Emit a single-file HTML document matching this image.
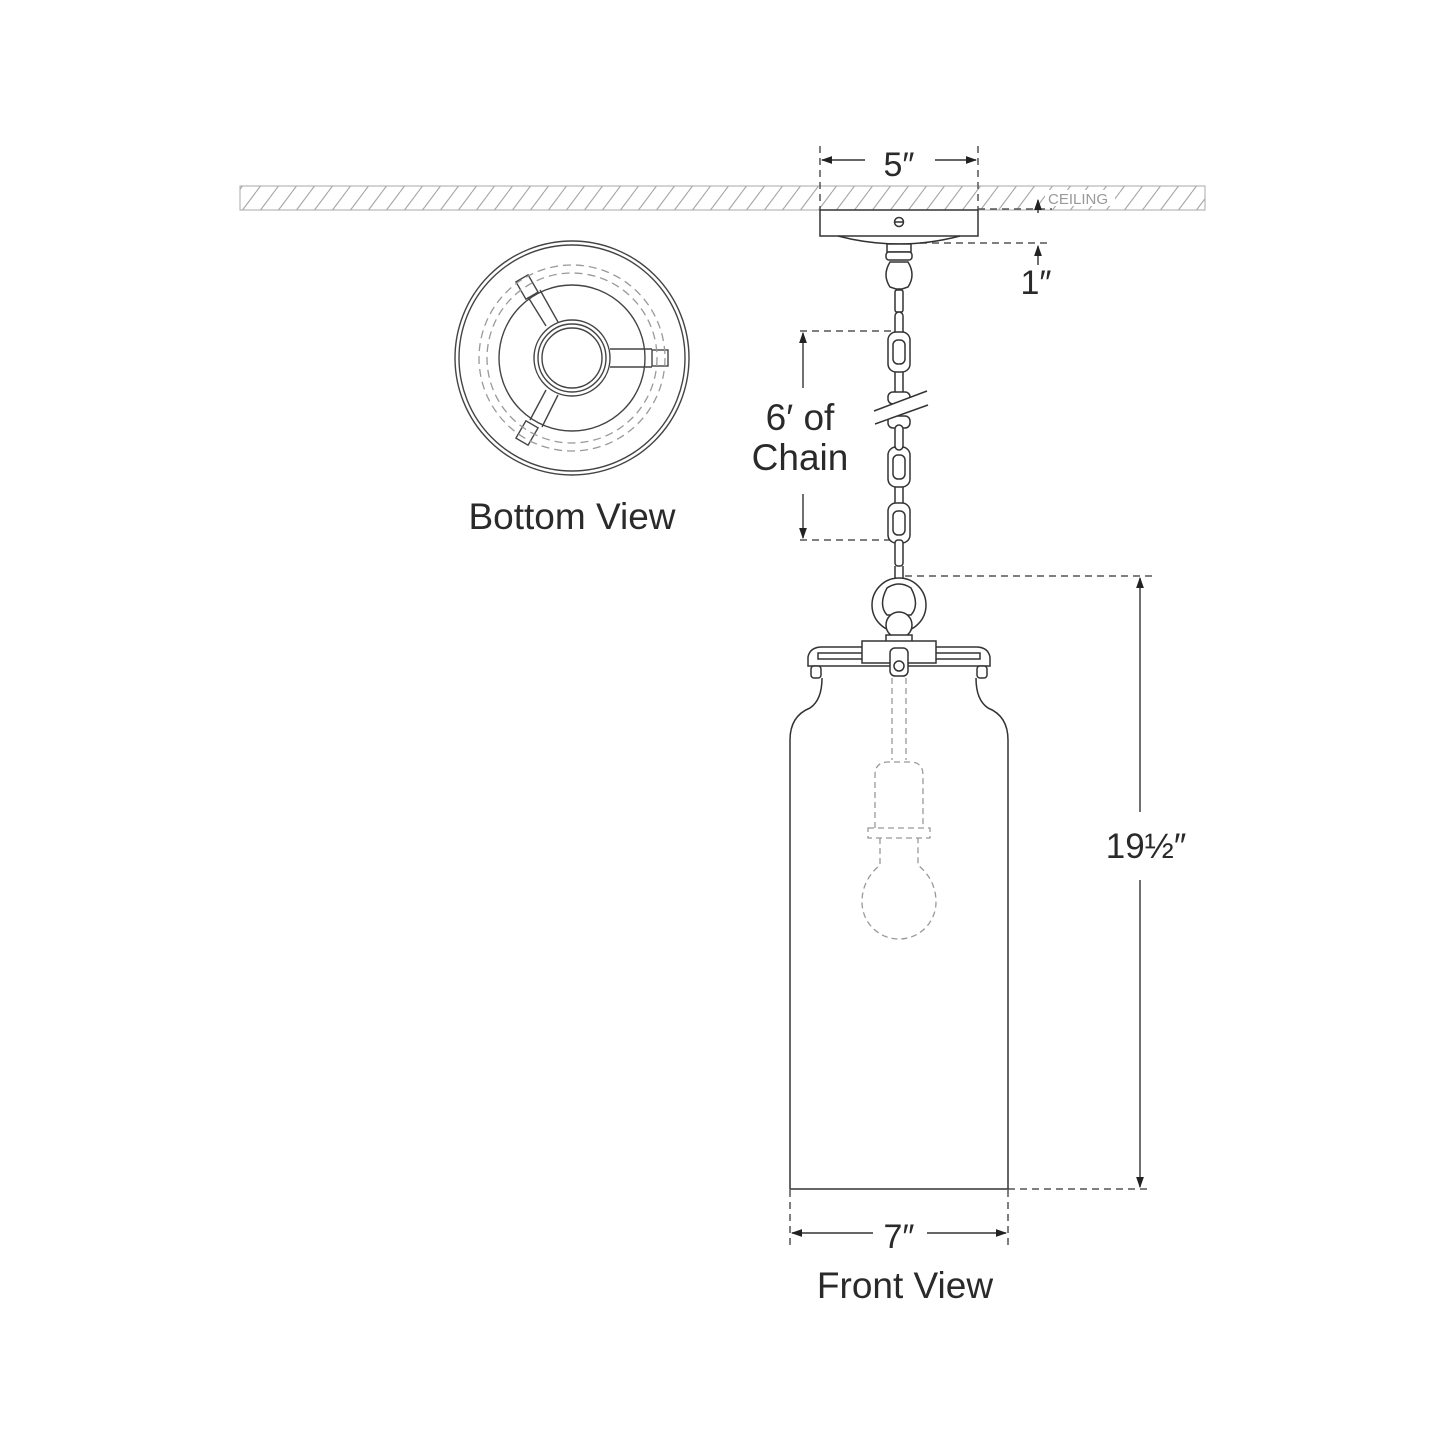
<!DOCTYPE html>
<html><head><meta charset="utf-8"><style>
html,body{margin:0;padding:0;background:#fff;}
svg{display:block;}
text{font-family:"Liberation Sans",sans-serif;fill:#2a2a2a;}
</style></head><body>
<svg width="1445" height="1445" viewBox="0 0 1445 1445" xmlns="http://www.w3.org/2000/svg">
<defs>
<pattern id="h" width="18" height="24" patternUnits="userSpaceOnUse">
<line x1="4" y1="24" x2="22" y2="0" stroke="#aaa" stroke-width="1.2"/>
<line x1="-14" y1="24" x2="4" y2="0" stroke="#aaa" stroke-width="1.2"/>
</pattern>
<marker id="a" viewBox="0 0 10 10" refX="9" refY="5" markerWidth="8" markerHeight="8" orient="auto-start-reverse"><path d="M0,1.5 L10,5 L0,8.5z" fill="#222"/></marker>
</defs>
<!-- ceiling -->
<rect x="240" y="186" width="965" height="24" fill="url(#h)" stroke="#aaa" stroke-width="1"/>
<rect x="1045" y="190" width="70" height="16" fill="#fff"/>
<text x="1048" y="204" font-size="15" style="fill:#999">CEILING</text>
<g stroke="#555" stroke-width="1.5" stroke-dasharray="7,5" fill="none">
<line x1="820" y1="146" x2="820" y2="210"/><line x1="978" y1="146" x2="978" y2="210"/>
<line x1="978" y1="209" x2="1052" y2="209"/>
<line x1="920" y1="243" x2="1052" y2="243"/>
<line x1="800" y1="331" x2="892" y2="331"/><line x1="800" y1="540" x2="892" y2="540"/>
<line x1="905" y1="576" x2="1152" y2="576"/><line x1="1008" y1="1189" x2="1152" y2="1189"/>
<line x1="790" y1="1190" x2="790" y2="1246"/><line x1="1008" y1="1190" x2="1008" y2="1246"/>
</g>
<g stroke="#333" stroke-width="1.4" fill="none">
<line x1="822" y1="160" x2="865" y2="160" marker-start="url(#a)"/>
<line x1="935" y1="160" x2="976" y2="160" marker-end="url(#a)"/>
<line x1="1038" y1="213" x2="1038" y2="200" marker-end="url(#a)"/>
<line x1="1038" y1="265" x2="1038" y2="246" marker-end="url(#a)"/>
<line x1="803" y1="388" x2="803" y2="333" marker-end="url(#a)"/>
<line x1="803" y1="494" x2="803" y2="538" marker-end="url(#a)"/>
<line x1="1140" y1="812" x2="1140" y2="578" marker-end="url(#a)"/>
<line x1="1140" y1="880" x2="1140" y2="1187" marker-end="url(#a)"/>
<line x1="792" y1="1233" x2="873" y2="1233" marker-start="url(#a)"/>
<line x1="927" y1="1233" x2="1006" y2="1233" marker-end="url(#a)"/>
</g>
<text x="899" y="176" font-size="34" text-anchor="middle">5″</text>
<text x="1036" y="294" font-size="34" text-anchor="middle">1″</text>
<text x="800" y="430" font-size="37" text-anchor="middle">6′ of</text>
<text x="800" y="470" font-size="37" text-anchor="middle">Chain</text>
<text x="1146" y="858" font-size="35" text-anchor="middle">19½″</text>
<text x="899" y="1248" font-size="34" text-anchor="middle">7″</text>
<text x="905" y="1298" font-size="37" text-anchor="middle">Front View</text>
<text x="572" y="529" font-size="37" text-anchor="middle">Bottom View</text>
<!-- canopy -->
<g stroke="#333" stroke-width="1.5" fill="#fff">
<rect x="820" y="210" width="158" height="26"/>
<path d="M838,236 Q899,252 960,236" fill="none"/>
<circle cx="899" cy="222" r="4.5"/><line x1="895" y1="222" x2="903" y2="222"/>
<rect x="887" y="244" width="24" height="8"/>
<rect x="886" y="252" width="26" height="8" rx="3"/>
<path d="M890,262 Q882,275 890,287 L896,289 L902,289 L908,287 Q916,275 908,262z"/>
<rect x="895" y="290" width="8" height="22" rx="2"/>
</g>
<!-- chain -->
<g stroke="#333" stroke-width="1.5" fill="#fff">
<rect x="895" y="365" width="8" height="30" rx="4"/>
<rect x="895" y="480" width="8" height="30" rx="4"/>
<rect x="895" y="312" width="8" height="24" rx="4"/>
<rect x="888" y="332" width="22" height="40" rx="8"/><rect x="893" y="340" width="12" height="24" rx="5"/>
<rect x="888" y="447" width="22" height="40" rx="8"/><rect x="893" y="455" width="12" height="24" rx="5"/>
<rect x="888" y="503" width="22" height="40" rx="8"/><rect x="893" y="511" width="12" height="24" rx="5"/>
<rect x="888" y="392" width="22" height="12" rx="5"/>
<rect x="888" y="416" width="22" height="12" rx="5"/>
<rect x="895" y="425" width="8" height="25" rx="4"/>
<rect x="895" y="540" width="8" height="26" rx="3"/>
<line x1="895" y1="566" x2="895" y2="580"/><line x1="903" y1="566" x2="903" y2="580"/>
</g>
<polygon points="876,410 925,392 926,406 877,423" fill="#fff"/>
<g stroke="#333" stroke-width="1.5"><line x1="874" y1="411" x2="927" y2="391"/><line x1="875" y1="424" x2="928" y2="405"/></g>
<!-- front view -->
<g stroke="#333" stroke-width="1.5" fill="#fff">
<circle cx="899" cy="605" r="27"/>
<path d="M887,588 Q899,580 911,588 Q920,605 911,615 L887,615 Q878,605 887,588z"/>
<circle cx="899" cy="625" r="13"/>
<rect x="886" y="635" width="26" height="7"/>
<path d="M808,666 L808,657 Q810,647 822,647 L976,647 Q988,647 990,657 L990,666z"/>
<rect x="818" y="653" width="162" height="6" fill="none"/>
<rect x="862" y="641" width="74" height="22"/>
<rect x="890" y="648" width="18" height="28" rx="5"/>
<circle cx="899" cy="666" r="5"/>
<rect x="811" y="666" width="10" height="12" rx="3"/><rect x="977" y="666" width="10" height="12" rx="3"/>
<path d="M822,678 Q822,700 810,708 Q790,716 790,740 L790,1189 L1008,1189 L1008,740 Q1008,716 988,708 Q976,700 976,678" fill="none"/>
</g>
<g stroke="#999" stroke-width="1.3" stroke-dasharray="6,4" fill="none">
<line x1="892" y1="678" x2="892" y2="760"/><line x1="906" y1="678" x2="906" y2="760"/>
<path d="M875,828 L875,775 Q875,762 888,762 L910,762 Q923,762 923,775 L923,828"/>
<rect x="868" y="828" width="62" height="10"/>
<path d="M880,838 L880,865 Q862,880 862,902 A37,37 0 0 0 936,902 Q936,880 918,865 L918,838"/>
</g>
<!-- bottom view -->
<g stroke="#444" stroke-width="1.4" fill="none">
<circle cx="572" cy="358" r="117"/><circle cx="572" cy="358" r="113"/>
<circle cx="572" cy="358" r="73"/>
<circle cx="572" cy="358" r="38"/><circle cx="572" cy="358" r="34"/><circle cx="572" cy="358" r="30"/>
<line x1="610" y1="349" x2="652" y2="349"/><line x1="610" y1="367" x2="652" y2="367"/>
<line x1="528" y1="297" x2="546" y2="326"/><line x1="540" y1="290" x2="558" y2="322"/>
<line x1="530" y1="420" x2="546" y2="390"/><line x1="542" y1="427" x2="558" y2="395"/>
<rect x="652" y="350" width="16" height="16"/>
<rect x="520" y="277" width="14" height="20" transform="rotate(-30 527 287)"/>
<rect x="520" y="423" width="14" height="20" transform="rotate(30 527 433)"/>
</g>
<g stroke="#999" stroke-width="1.3" stroke-dasharray="8,5" fill="none">
<circle cx="572" cy="358" r="93"/><circle cx="572" cy="358" r="85"/>
</g>
</svg>
</body></html>
